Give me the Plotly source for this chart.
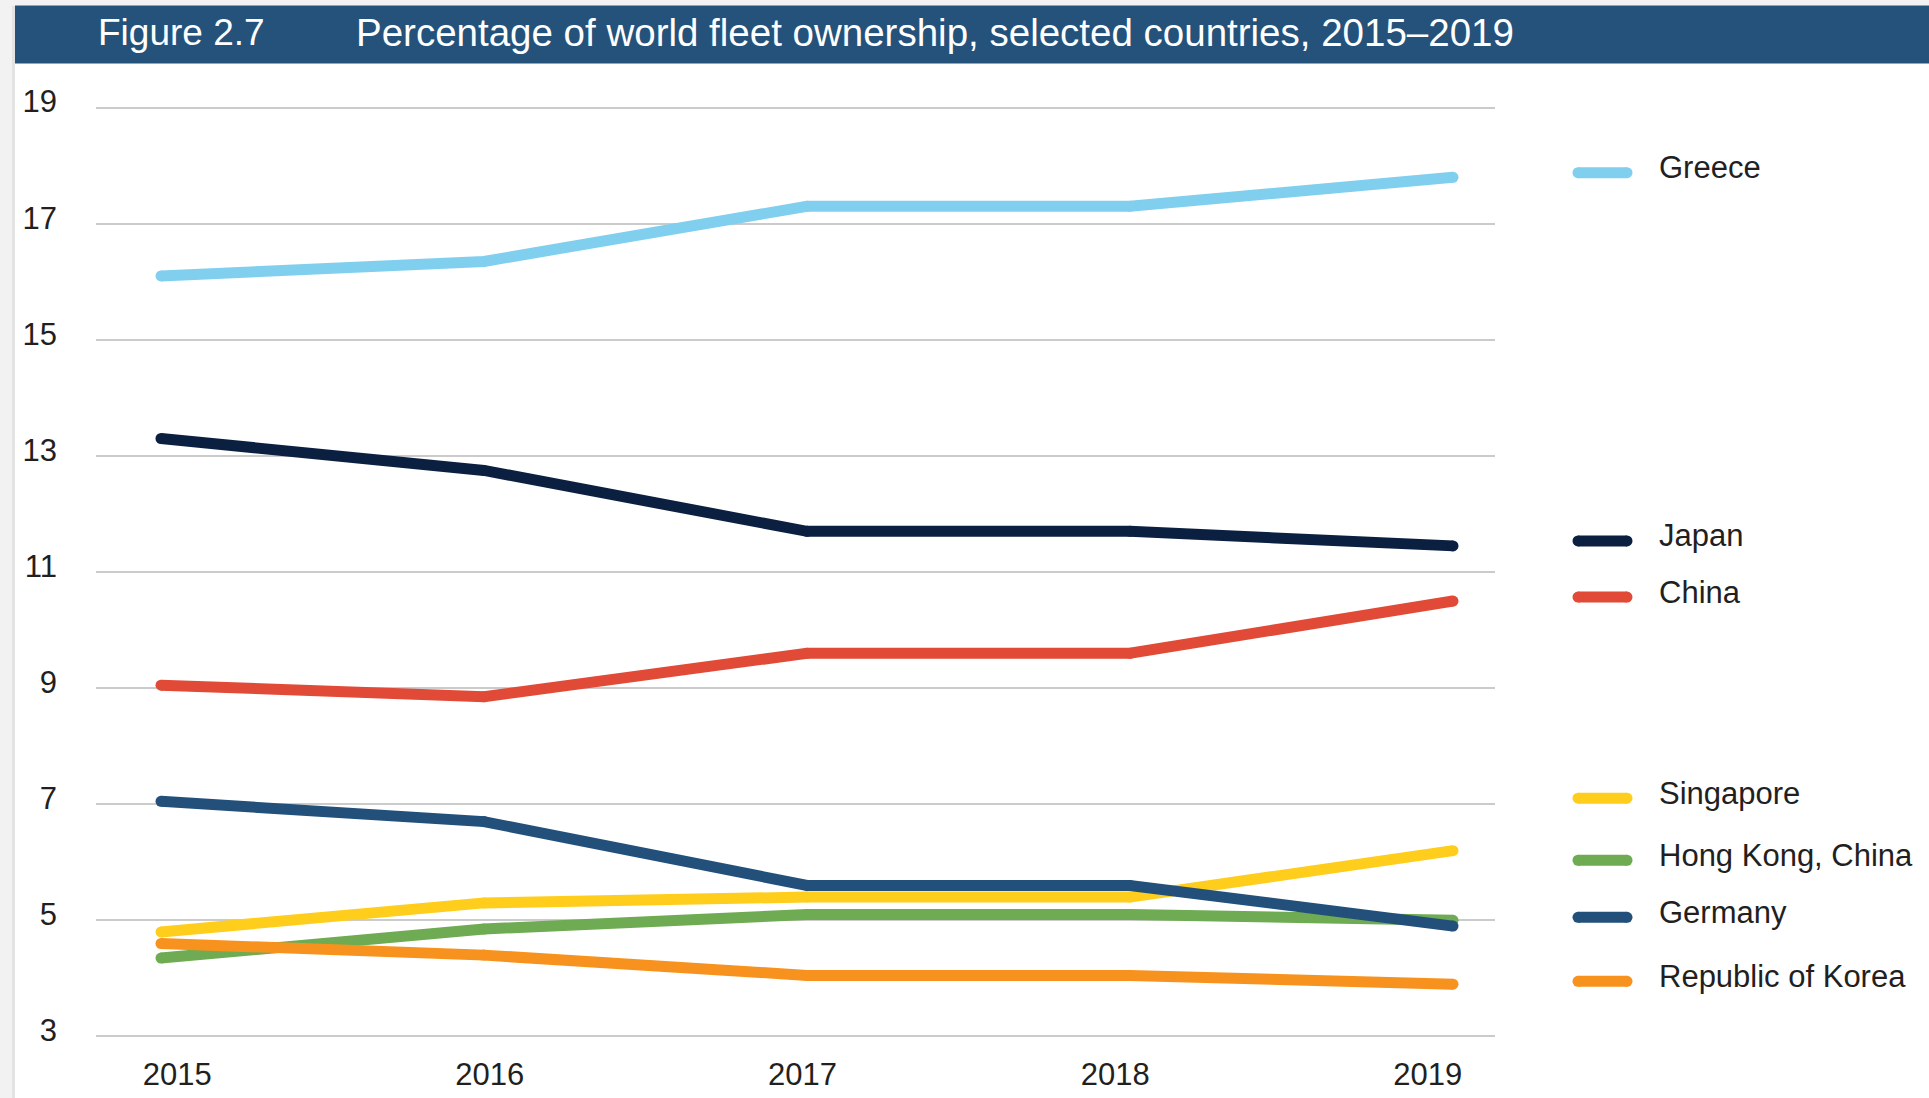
import plotly.graph_objects as go

# ---- data: share of world fleet ownership (%) ----
years = [2015, 2016, 2017, 2018, 2019]
countries = ["Greece", "Japan", "China", "Singapore", "Hong Kong, China", "Germany", "Republic of Korea"]
greece = [16.1, 16.35, 17.3, 17.3, 17.8]
japan = [13.3, 12.75, 11.7, 11.7, 11.45]
china = [9.05, 8.85, 9.6, 9.6, 10.5]
singapore = [4.8, 5.3, 5.4, 5.4, 6.2]
hong_kong = [4.35, 4.85, 5.1, 5.1, 5.0]
germany = [7.05, 6.7, 5.6, 5.6, 4.9]
korea = [4.6, 4.4, 4.05, 4.05, 3.9]
y_ticks = [3, 5, 7, 9, 11, 13, 15, 17, 19]
year_labels = ["2015", "2016", "2017", "2018", "2019"]

series = [greece, japan, china, singapore, hong_kong, germany, korea]
colors = ["#80CFEE", "#0B1F41", "#E04A36", "#FFCD1C", "#6EAB52", "#22507A", "#F7921E"]

# ---- page geometry (pixels) ----
W, H = 1929, 1098
L, R = 96, 1495
T, B = 96.4, 1047.6
FONT = "Liberation Sans, Arial, Helvetica, sans-serif"
TEXT = "#231F20"
LW = 11


def px(xp):
    return (xp - L) / (R - L)


def py(yp):
    return (B - yp) / (B - T)


fig = go.Figure()
for name, vals, col in zip(countries, series, colors):
    fig.add_trace(go.Scatter(
        x=years, y=vals, name=name, mode="lines+markers",
        line=dict(color=col, width=LW),
        marker=dict(color=col, size=LW, line=dict(width=0)),
        showlegend=False,
    ))

# year labels sit slightly off the data columns
tick_pos = [years[0] + 0.05 + i * 0.968 for i in range(len(years))]

shapes = [
    # light frame strip on the left and top
    dict(type="rect", xref="paper", yref="paper", x0=px(0), x1=px(13), y0=py(H), y1=py(0),
         fillcolor="#F2F2F2", line=dict(width=0), layer="below"),
    dict(type="rect", xref="paper", yref="paper", x0=px(12), x1=px(15), y0=py(H), y1=py(6),
         fillcolor="#E3E3E3", line=dict(width=0), layer="below"),
    dict(type="rect", xref="paper", yref="paper", x0=px(0), x1=px(W), y0=py(6), y1=py(0),
         fillcolor="#F2F2F2", line=dict(width=0), layer="below"),
    # title banner
    dict(type="rect", xref="paper", yref="paper", x0=px(15), x1=px(W), y0=py(64), y1=py(6),
         fillcolor="#24527A", line=dict(width=0), layer="below"),
]

annotations = [
    dict(text="Figure 2.7", xref="paper", yref="paper", x=px(96), y=py(33),
         xanchor="left", yanchor="middle", showarrow=False,
         font=dict(family=FONT, size=37, color="white")),
    dict(text="Percentage of world fleet ownership, selected countries, 2015–2019",
         xref="paper", yref="paper", x=px(354), y=py(33),
         xanchor="left", yanchor="middle", showarrow=False,
         font=dict(family=FONT, size=38.5, color="white")),
]

# custom legend, grouped to sit beside the lines
legend_y = [173, 541, 597, 798, 860, 917, 981]
sw_x0, sw_x1, cap = 1578, 1627, LW / 2
for name, col, ly in zip(countries, colors, legend_y):
    shapes.append(dict(type="line", xref="paper", yref="paper",
                       x0=px(sw_x0), x1=px(sw_x1), y0=py(ly), y1=py(ly),
                       line=dict(color=col, width=LW)))
    for cx in (sw_x0, sw_x1):
        shapes.append(dict(type="circle", xref="paper", yref="paper",
                           x0=px(cx - cap), x1=px(cx + cap), y0=py(ly + cap), y1=py(ly - cap),
                           fillcolor=col, line=dict(width=0)))
    annotations.append(dict(text=name, xref="paper", yref="paper", x=px(1657), y=py(ly - 5),
                            xanchor="left", yanchor="middle", showarrow=False,
                            font=dict(family=FONT, size=31, color=TEXT)))

fig.update_layout(
    width=W, height=H,
    margin=dict(l=L, r=W - R, t=T, b=H - B, pad=0),
    paper_bgcolor="white", plot_bgcolor="white",
    shapes=shapes, annotations=annotations,
    font=dict(family=FONT, size=31, color=TEXT),
    xaxis=dict(range=[2015 - 65 / 323, 2019 + 42 / 323], showgrid=False, zeroline=False,
               showline=False, tickvals=tick_pos, ticktext=year_labels, automargin=False,
               ticks="", ticklabelstandoff=5, tickfont=dict(family=FONT, size=31, color=TEXT)),
    yaxis=dict(range=[2.8, 19.2], tickvals=y_ticks, showgrid=True, gridcolor="#CBCBCB",
               gridwidth=2, zeroline=False, showline=False, ticks="", automargin=False,
               ticklabelstandoff=38, ticklabelshift=-6,
               tickfont=dict(family=FONT, size=31, color=TEXT)),
    hovermode=False,
)

fig.write_html("out.html")
